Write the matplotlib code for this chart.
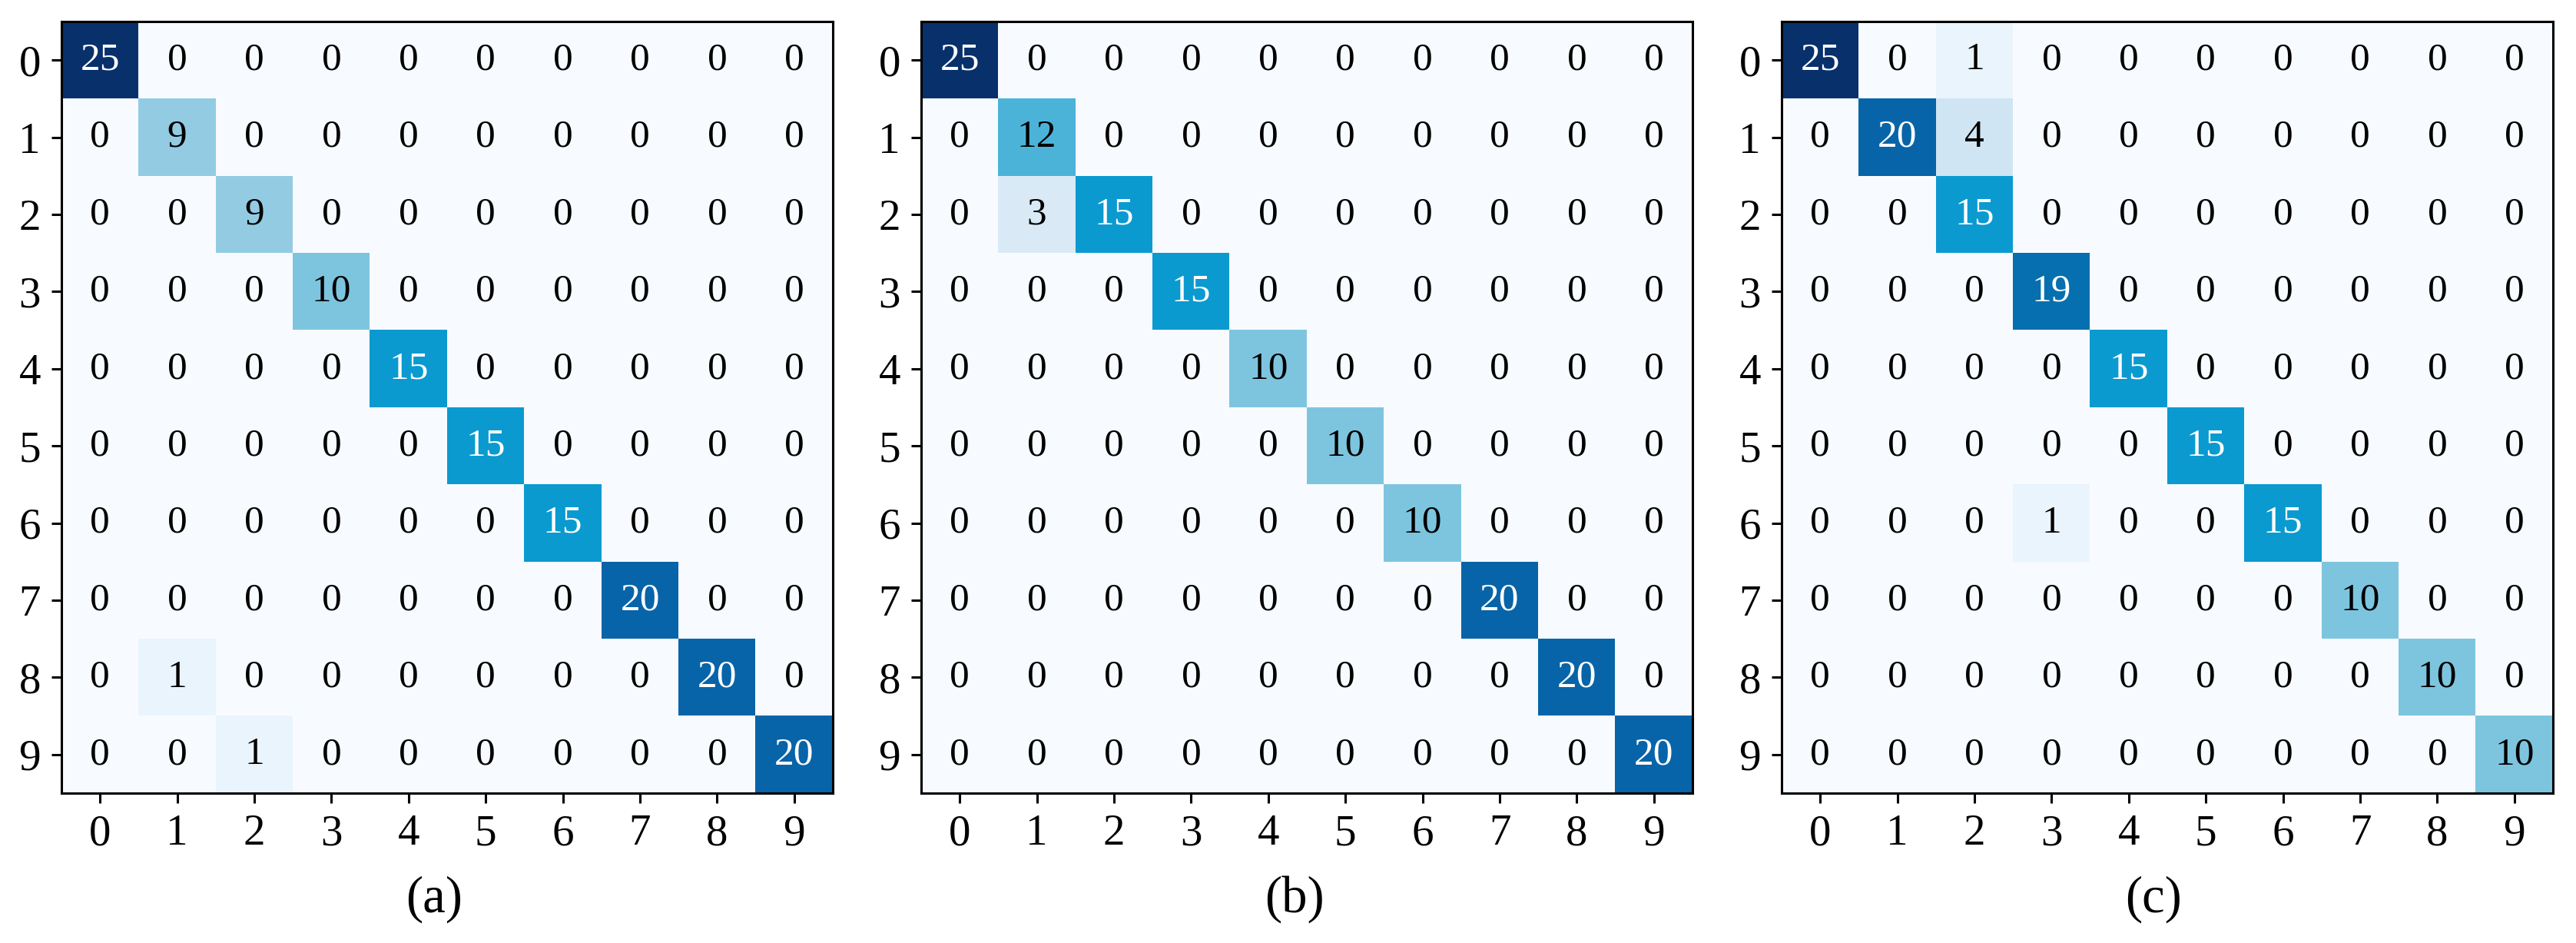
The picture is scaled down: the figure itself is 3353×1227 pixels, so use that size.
import numpy as np
import matplotlib
matplotlib.use("Agg")
import matplotlib.pyplot as plt
from matplotlib.colors import LinearSegmentedColormap

# ----------------------------- DATA
classes = [str(i) for i in range(10)]
captions = ['(a)', '(b)', '(c)']

diag_a = [25, 9, 9, 10, 15, 15, 15, 20, 20, 20]
off_a = [(8, 1, 1), (9, 2, 1)]          # (row, col, count)

diag_b = [25, 12, 15, 15, 10, 10, 10, 20, 20, 20]
off_b = [(2, 1, 3)]

diag_c = [25, 20, 15, 19, 15, 15, 15, 10, 10, 10]
off_c = [(0, 2, 1), (1, 2, 4), (6, 3, 1)]


def build(diag, off):
    m = np.diag(diag).astype(int)
    for r, c, v in off:
        m[r, c] = v
    return m


mats = [build(diag_a, off_a), build(diag_b, off_b), build(diag_c, off_c)]

# ----------------------------- STYLE
plt.rcParams['font.family'] = ['Liberation Serif', 'DejaVu Serif']
cmap = LinearSegmentedColormap.from_list('cm', [
    (0.00, '#f7fbff'), (0.04, '#eaf4fc'), (0.16, '#d0e5f3'),
    (0.36, '#94cce4'), (0.40, '#7dc5df'), (0.48, '#4cb3d8'),
    (0.60, '#0a9ad0'), (0.76, '#0670b0'), (0.80, '#0864a8'),
    (1.00, '#08306b')])
vmax = 25

W, H = 3353, 1227
fig = plt.figure(figsize=(W / 100, H / 100), dpi=100)
lefts = [80, 1199, 2319]
size = 1004
top = 28
cap_x = [565, 1685, 2803]

# ----------------------------- PANELS
for k, m in enumerate(mats):
    ax = fig.add_axes([lefts[k] / W, 1 - (top + size) / H, size / W, size / H])
    ax.imshow(m, cmap=cmap, vmin=0, vmax=vmax, aspect='auto', interpolation='nearest')
    for i in range(10):
        for j in range(10):
            v = m[i, j]
            ax.text(j, i, str(v), ha='center', va='center', fontsize=37,
                    color='white' if v > vmax / 2 else 'black')
    ax.set_xticks(range(10))
    ax.set_yticks(range(10))
    ax.set_xticklabels(classes)
    ax.set_yticklabels(classes)
    ax.tick_params(labelsize=41, length=9.5, width=2.2, pad=10)
    for s in ax.spines.values():
        s.set_linewidth(2.2)
    fig.text(cap_x[k] / W, 1 - 1170 / H, captions[k], ha='center', va='center', fontsize=48)

fig.savefig('out.png', dpi=100)
